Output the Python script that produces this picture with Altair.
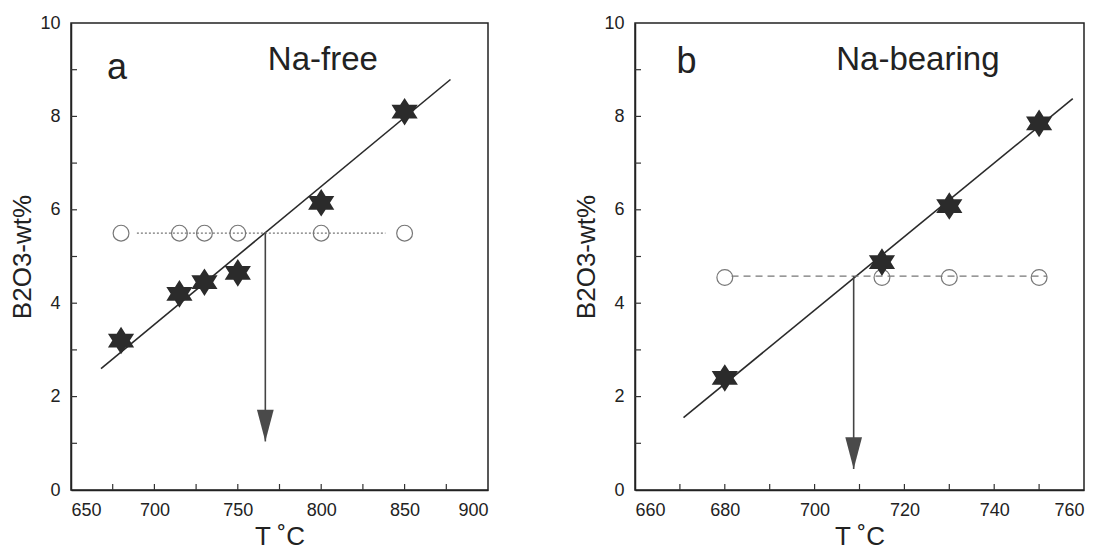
import altair as alt
import pandas as pd

# ---------------- Panel a : Na-free ----------------
free_T = [680, 715, 730, 750, 800, 850]
free_star_B = [3.2, 4.2, 4.45, 4.65, 6.15, 8.1]
free_circle_B = [5.5, 5.5, 5.5, 5.5, 5.5, 5.5]
free_fit_T = [668, 877.5]
free_fit_B = [2.6, 8.79]
free_level_T = [689.5, 838.5]
free_level_B = [5.5, 5.5]
free_arrow_T = [766.5]
free_arrow_top = [5.5]
free_arrow_tip = [1.04]
free_x_domain = [650, 900]
free_x_labels = [650, 700, 750, 800, 850, 900]
free_x_ticks = [675, 700, 725, 750, 775, 800, 825, 850, 875]

# ---------------- Panel b : Na-bearing ----------------
bear_T = [680, 715, 730, 750]
bear_star_B = [2.4, 4.88, 6.08, 7.85]
bear_circle_B = [4.55, 4.55, 4.55, 4.55]
bear_fit_T = [670.8, 757.5]
bear_fit_B = [1.55, 8.38]
bear_level_T = [681.5, 751.8]
bear_level_B = [4.58, 4.58]
bear_arrow_T = [708.7]
bear_arrow_top = [4.58]
bear_arrow_tip = [0.45]
bear_x_domain = [660, 760]
bear_x_labels = [660, 680, 700, 720, 740, 760]
bear_x_ticks = [670, 680, 690, 700, 710, 720, 730, 740, 750]

y_domain = [0, 10]
y_labels = [0, 2, 4, 6, 8, 10]
y_ticks = [1, 2, 3, 4, 5, 6, 7, 8, 9]

STAR = ("M0,-1L0.32,-0.5L0.95,-0.5L0.635,0L0.95,0.5L0.32,0.5L0,1"
        "L-0.32,0.5L-0.95,0.5L-0.635,0L-0.95,-0.5L-0.32,-0.5Z")
HEAD = "M-0.53,-2L0.53,-2L0,0Z"

FONT = "Liberation Sans"
W_H = 467


def panel(width, x_domain, x_labels, x_ticks, T, star_B, circ_B, fit_T, fit_B,
          lev_T, lev_B, dash, ar_T, ar_top, ar_tip, letter, letter_T, letter_B,
          name, name_T, name_B):
    xs = alt.Scale(domain=x_domain, nice=False, zero=False)
    ys = alt.Scale(domain=y_domain, nice=False, zero=False)
    xa = alt.Axis(values=x_labels, title="T ˚C", format="d")
    ya = alt.Axis(values=y_labels, title="B2O3-wt%", format="d")

    def X(f):
        return alt.X(f, scale=xs, axis=xa)

    def Y(f):
        return alt.Y(f, scale=ys, axis=ya)

    pts = pd.DataFrame({"T": T, "star": star_B, "circ": circ_B})
    fit = pd.DataFrame({"T": fit_T, "B": fit_B})
    lev = pd.DataFrame({"T": lev_T, "B": lev_B})
    arr = pd.DataFrame({"T": ar_T, "top": ar_top, "tip": ar_tip})
    xt = pd.DataFrame({"T": x_ticks})
    yt = pd.DataFrame({"B": y_ticks})
    lab = pd.DataFrame({"T": [letter_T, name_T], "B": [letter_B, name_B],
                        "txt": [letter, name], "fs": [36, 33]})

    base_fit = alt.Chart(fit).mark_line(color="#2a2a2a", strokeWidth=1.6).encode(
        x=X("T:Q"), y=Y("B:Q"))
    level = alt.Chart(lev).mark_line(color="#777", strokeWidth=1.3, strokeDash=dash).encode(
        x=X("T:Q"), y=Y("B:Q"))
    circles = alt.Chart(pts).mark_point(shape="circle", size=250, filled=False,
                                        color="#777", strokeWidth=1.2, opacity=1).encode(
        x=X("T:Q"), y=Y("circ:Q"))
    stars = alt.Chart(pts).mark_point(shape=STAR, size=760, filled=True,
                                      color="#2b2b2b", opacity=1, strokeWidth=0).encode(
        x=X("T:Q"), y=Y("star:Q"))
    shaft = alt.Chart(arr).mark_rule(color="#444", strokeWidth=1.6).encode(
        x=X("T:Q"), y=Y("top:Q"), y2="tip:Q")
    head = alt.Chart(arr).mark_point(shape=HEAD, size=1000, filled=True,
                                     color="#4a4a4a", opacity=1, strokeWidth=0).encode(
        x=X("T:Q"), y=Y("tip:Q"))
    xtick = alt.Chart(xt).mark_rule(color="#333", strokeWidth=1.2).encode(
        x=X("T:Q"), y=alt.value(W_H), y2=alt.value(W_H - 6))
    ytick = alt.Chart(yt).mark_rule(color="#333", strokeWidth=1.2).encode(
        y=Y("B:Q"), x=alt.value(0), x2=alt.value(6))
    texts = alt.Chart(lab).mark_text(font=FONT, color="#222", align="center",
                                     baseline="alphabetic").encode(
        x=X("T:Q"), y=Y("B:Q"), text="txt:N",
        size=alt.Size("fs:Q", scale=None, legend=None))
    return alt.layer(base_fit, level, circles, stars, shaft, head, xtick, ytick,
                     texts).properties(width=width, height=W_H)


left = panel(417, free_x_domain, free_x_labels, free_x_ticks, free_T, free_star_B,
             free_circle_B, free_fit_T, free_fit_B, free_level_T, free_level_B,
             [2, 2], free_arrow_T, free_arrow_top, free_arrow_tip,
             "a", 677.6, 8.8, "Na-free", 801, 9.0)
right = panel(449, bear_x_domain, bear_x_labels, bear_x_ticks, bear_T, bear_star_B,
              bear_circle_B, bear_fit_T, bear_fit_B, bear_level_T, bear_level_B,
              [7, 5], bear_arrow_T, bear_arrow_top, bear_arrow_tip,
              "b", 671.5, 8.94, "Na-bearing", 723, 9.0)

chart = alt.hconcat(left, right, spacing=84).properties(
    background="white",
    padding={"left": 1, "top": 5, "right": 5, "bottom": 5},
).configure_view(
    stroke="#222", strokeWidth=1.5
).configure_axis(
    labelFont=FONT, labelFontSize=18, labelColor="#222", labelPadding=11,
    titleFont=FONT, titleFontSize=26, titleFontWeight="normal", titleColor="#222",
    titlePadding=4, domainColor="#222", domainWidth=1.5, ticks=False, grid=False,
)

chart.save("out.html", embed_options={"renderer": "svg", "actions": False})
